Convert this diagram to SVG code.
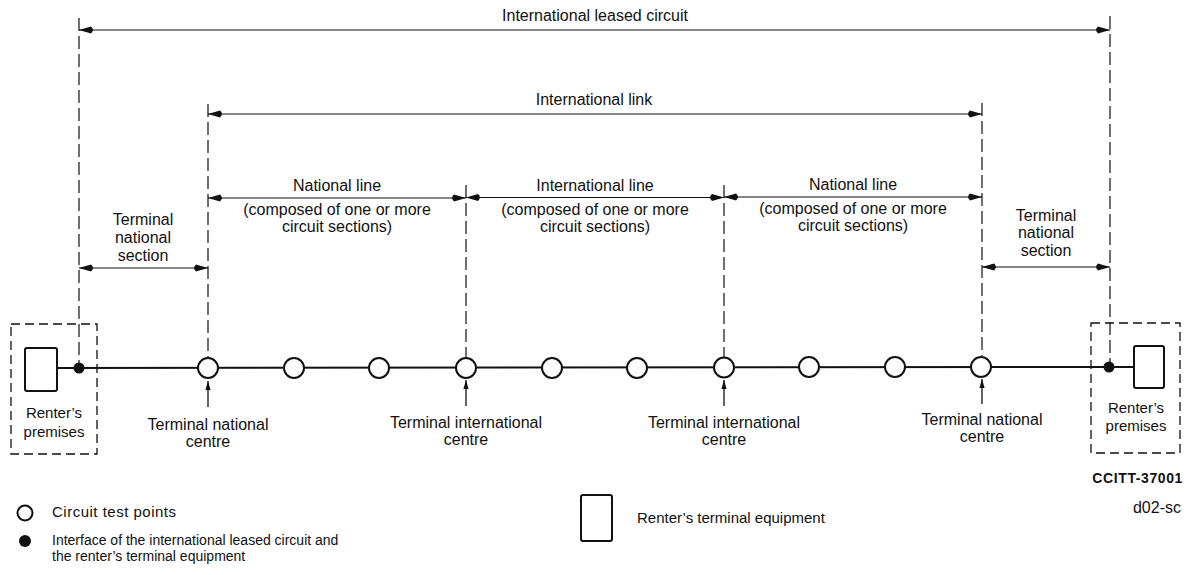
<svg xmlns="http://www.w3.org/2000/svg" width="1192" height="575" viewBox="0 0 1192 575">
<style>
text{font-family:"Liberation Sans",Arial,sans-serif;fill:#111}
.lbl{font-size:16px;text-anchor:middle}
.leg{font-size:14px}
.dim{stroke:#111;stroke-width:1.2;fill:none}
.dash{stroke:#111;stroke-width:1.2;stroke-dasharray:13 5;fill:none}
.box{stroke:#111;stroke-width:1.3;stroke-dasharray:9 5;fill:none}
.main{stroke:#111;stroke-width:2;fill:none}
.tp{fill:#fff;stroke:#111;stroke-width:2}
.eq{fill:#fff;stroke:#111;stroke-width:2}
.dot{fill:#111}
.up{stroke:#111;stroke-width:1.3;fill:none}
</style>
<defs>
<marker id="ah" viewBox="0 -4 16 8" refX="16" refY="0" markerWidth="16" markerHeight="8" markerUnits="userSpaceOnUse" orient="auto-start-reverse">
<path d="M16,0 L4,-3.4 Q0,0 4,3.4 Z" fill="#111"/>
</marker>
<marker id="ua" viewBox="0 -3 9 6" refX="9" refY="0" markerWidth="9" markerHeight="6" markerUnits="userSpaceOnUse" orient="auto-start-reverse">
<path d="M9,0 L0,-2.6 L0,2.6 Z" fill="#111"/>
</marker>
</defs>

<g id="connectors">
<!-- dashed reference verticals -->
<line class="dash" x1="79" y1="18" x2="79" y2="368"/>
<line class="dash" x1="1110" y1="16" x2="1110" y2="367"/>
<line class="dash" x1="208" y1="104" x2="208" y2="357"/>
<line class="dash" x1="466" y1="185" x2="466" y2="357"/>
<line class="dash" x1="724" y1="185" x2="724" y2="357"/>
<line class="dash" x1="982" y1="103" x2="982" y2="356"/>
<!-- dimension lines -->
<line class="dim" x1="79" y1="30" x2="1110" y2="30" marker-start="url(#ah)" marker-end="url(#ah)"/>
<line class="dim" x1="208" y1="114" x2="982" y2="114" marker-start="url(#ah)" marker-end="url(#ah)"/>
<line class="dim" x1="208" y1="198" x2="466" y2="198" marker-start="url(#ah)" marker-end="url(#ah)"/>
<line class="dim" x1="466" y1="197.5" x2="724" y2="197.5" marker-start="url(#ah)" marker-end="url(#ah)"/>
<line class="dim" x1="724" y1="197" x2="982" y2="197" marker-start="url(#ah)" marker-end="url(#ah)"/>
<line class="dim" x1="79" y1="268" x2="208" y2="268" marker-start="url(#ah)" marker-end="url(#ah)"/>
<line class="dim" x1="982" y1="267" x2="1110" y2="267" marker-start="url(#ah)" marker-end="url(#ah)"/>
<!-- main transmission line -->
<line class="main" x1="57" y1="368" x2="1134" y2="367"/>
<!-- pointer arrows -->
<line class="up" x1="208" y1="407" x2="208" y2="381" marker-end="url(#ua)"/>
<line class="up" x1="466" y1="406" x2="466" y2="380" marker-end="url(#ua)"/>
<line class="up" x1="724" y1="406" x2="724" y2="380" marker-end="url(#ua)"/>
<line class="up" x1="982" y1="404" x2="982" y2="379" marker-end="url(#ua)"/>
</g>

<g id="dimension-labels">
<text class="lbl" x="595" y="21">International leased circuit</text>
<text class="lbl" x="594" y="105">International link</text>
<text class="lbl" x="337" y="191">National line</text>
<text class="lbl" x="337" y="215">(composed of one or more</text>
<text class="lbl" x="337" y="232">circuit sections)</text>
<text class="lbl" x="595" y="191">International line</text>
<text class="lbl" x="595" y="215">(composed of one or more</text>
<text class="lbl" x="595" y="232">circuit sections)</text>
<text class="lbl" x="853" y="190">National line</text>
<text class="lbl" x="853" y="214">(composed of one or more</text>
<text class="lbl" x="853" y="231">circuit sections)</text>
<text class="lbl" x="143" y="225">Terminal</text>
<text class="lbl" x="143" y="243">national</text>
<text class="lbl" x="143" y="261">section</text>
<text class="lbl" x="1046" y="221">Terminal</text>
<text class="lbl" x="1046" y="238">national</text>
<text class="lbl" x="1046" y="256">section</text>
</g>

<g id="premises-left">
<rect class="box" x="11" y="324" width="86" height="130"/>
<rect class="eq" x="25" y="348" width="32" height="43" rx="2"/>
<text class="lbl" x="54" y="418" style="font-size:15px">Renter’s</text>
<text class="lbl" x="54" y="437" style="font-size:15px">premises</text>
</g>
<g id="interface-left"><circle class="dot" cx="79" cy="368" r="5.5"/></g>

<g id="premises-right">
<rect class="box" x="1091" y="323" width="89" height="130"/>
<rect class="eq" x="1134" y="346" width="30" height="42" rx="2"/>
<text class="lbl" x="1136" y="413" style="font-size:15px">Renter’s</text>
<text class="lbl" x="1136" y="431" style="font-size:15px">premises</text>
</g>
<g id="interface-right"><circle class="dot" cx="1109" cy="367" r="5.5"/></g>

<g id="tnc-left">
<circle class="tp" cx="208" cy="368" r="10"/>
<text class="lbl" x="208" y="430">Terminal national</text>
<text class="lbl" x="208" y="447">centre</text>
</g>
<g id="tp-2"><circle class="tp" cx="294" cy="368" r="10"/></g>
<g id="tp-3"><circle class="tp" cx="379" cy="368" r="10"/></g>
<g id="tic-left">
<circle class="tp" cx="466" cy="368" r="10"/>
<text class="lbl" x="466" y="428">Terminal international</text>
<text class="lbl" x="466" y="445">centre</text>
</g>
<g id="tp-5"><circle class="tp" cx="552" cy="368" r="10"/></g>
<g id="tp-6"><circle class="tp" cx="637" cy="368" r="10"/></g>
<g id="tic-right">
<circle class="tp" cx="724" cy="367.5" r="10"/>
<text class="lbl" x="724" y="428">Terminal international</text>
<text class="lbl" x="724" y="445">centre</text>
</g>
<g id="tp-8"><circle class="tp" cx="809" cy="367" r="10"/></g>
<g id="tp-9"><circle class="tp" cx="895" cy="367" r="10"/></g>
<g id="tnc-right">
<circle class="tp" cx="981" cy="367" r="10"/>
<text class="lbl" x="982" y="425">Terminal national</text>
<text class="lbl" x="982" y="442">centre</text>
</g>

<g id="legend">
<circle class="tp" cx="25" cy="513" r="7.5"/>
<text class="leg" x="52" y="517" style="font-size:15px;letter-spacing:0.5px">Circuit test points</text>
<circle class="dot" cx="25" cy="541" r="6"/>
<text class="leg" x="52" y="545">Interface of the international leased circuit and</text>
<text class="leg" x="52" y="561">the renter’s terminal equipment</text>
<rect class="eq" x="581" y="495" width="31" height="46" rx="2"/>
<text class="leg" x="637" y="523" style="font-size:15px">Renter’s terminal equipment</text>
</g>

<g id="ids">
<text x="1183" y="483" style="font-size:14px;font-weight:bold;text-anchor:end;letter-spacing:0.6px">CCITT-37001</text>
<text x="1181" y="513" style="font-size:16px;text-anchor:end">d02-sc</text>
</g>
</svg>
